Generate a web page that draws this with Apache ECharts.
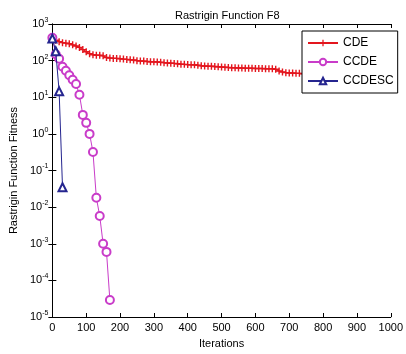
<!DOCTYPE html>
<html>
<head>
<meta charset="utf-8">
<script src="https://cdn.jsdelivr.net/npm/echarts@6/dist/echarts.min.js"></script>
<style>html,body{margin:0;padding:0;background:#fff}#c{width:406px;height:354px}</style>
</head>
<body>
<div id="c"></div>
<script>
var cdeIters = [0,10,20,30,40,50,60,70,80,90,100,110,120,130,140,150,160,170,180,190,200,210,220,230,240,250,260,270,280,290,300,310,320,330,340,350,360,370,380,390,400,410,420,430,440,450,460,470,480,490,500,510,520,530,540,550,560,570,580,590,600,610,620,630,640,650,660,670,680,690,700,710,720,730,740,750,760,770,780,790,800,810,820,830,840,850,860,870,880,890,900,910,920,930,940,950,960,970,980,990,1000];
var cdeValues = [400,360,330,310,300,290,270,250,230,200,175,155,145,140,140,135,122,118,115,115,113,110,108,105,104,100,98,97,95,93,93,92,90,88,86,85,84,82,80,79,78,77,77,75,72,71,70,70,69,68,67,66,65,64,64,63,63,62,62,62,61,61,61,60,60,60,58,52,49,47,46,46,45,45,44,44,43,43,42,42,41,40,40,39,38,38,37,37,36,36,35,35,34,34,33,33,33,32,32,31,30];
var ccdeIters = [0,10,20,30,40,50,60,70,80,90,100,110,120,130,140,150,160,170];
var ccdeValues = [420,150,112,68,53,40,30,23,11.7,3.3,2.0,1.0,0.32,0.018,0.0057,0.001,0.0006,0.000029];
var ccdescIters = [0,10,20,30];
var ccdescValues = [400,180,14.5,0.035];
var seriesNames = ['CDE','CCDE','CCDESC'];
var xTicks = {min:0, max:1000, interval:100};
var yRange = {min:1e-5, max:1e3};

function pairs(xs, ys){ return xs.map(function(x,i){ return [x, ys[i]]; }); }

var chart = echarts.init(document.getElementById('c'));
var FONT = 'Liberation Sans, Arial, sans-serif';
var plusPath = 'path://M4,0 H6 V4 H10 V6 H6 V10 H4 V6 H0 V4 H4 Z';
var axisCommon = {
  axisLine:{show:true, lineStyle:{color:'#000', width:1}},
  axisTick:{show:true, inside:true, length:4, lineStyle:{color:'#000'}},
  splitLine:{show:false}
};
function yLabel(v){
  var e = Math.round(Math.log10(v));
  return '{b|10}{e|' + e + '}';
}
var option = {
  animation:false,
  backgroundColor:'#fff',
  title:{text:'Rastrigin Function F8', left:170, top:5,
    textStyle:{fontSize:11, fontWeight:'normal', color:'#000', fontFamily:FONT}},
  legend:{
    orient:'vertical', left:302, top:31,
    backgroundColor:'#fff', borderColor:'#000', borderWidth:1, borderRadius:0,
    padding:[6,4,6,5], itemGap:7, itemWidth:30, itemHeight:8,
    textStyle:{fontSize:12, color:'#000', fontFamily:FONT},
    data:seriesNames
  },
  grid:{left:49, right:9, top:24, bottom:36, containLabel:false},
  xAxis:[
    Object.assign({type:'value', position:'bottom', min:xTicks.min, max:xTicks.max, interval:xTicks.interval,
      name:'Iterations', nameLocation:'middle', nameGap:21,
      nameTextStyle:{fontSize:11, color:'#000', fontFamily:FONT},
      axisLabel:{fontSize:11, color:'#000', fontFamily:FONT, margin:5, formatter:function(v){return String(v);}}}, axisCommon),
    Object.assign({type:'value', position:'top', min:xTicks.min, max:xTicks.max, interval:xTicks.interval,
      axisLabel:{show:false}}, axisCommon)
  ],
  yAxis:[
    Object.assign({type:'log', logBase:10, position:'left', min:yRange.min, max:yRange.max, splitNumber:8,
      name:'Rastrigin Function Fitness', nameLocation:'middle', nameGap:31,
      nameTextStyle:{fontSize:11, color:'#000', fontFamily:FONT},
      axisLabel:{fontSize:11, color:'#000', fontFamily:FONT, margin:4, formatter:yLabel,
        rich:{b:{fontSize:11, color:'#000', fontFamily:FONT},
              e:{fontSize:7, color:'#000', fontFamily:FONT, padding:[0,0,8,0]}}}}, axisCommon),
    Object.assign({type:'log', logBase:10, position:'right', min:yRange.min, max:yRange.max, splitNumber:8,
      axisLabel:{show:false}}, axisCommon)
  ],
  series:[
    {name:seriesNames[0], type:'line', data:pairs(cdeIters, cdeValues), color:'#e3161e',
      lineStyle:{width:1.2, color:'#e3161e'}, symbol:plusPath, symbolSize:7, showSymbol:true,
      itemStyle:{color:'#e3161e'}, z:2},
    {name:seriesNames[1], type:'line', data:pairs(ccdeIters, ccdeValues), color:'#c93cc9',
      lineStyle:{width:1, color:'#c93cc9'}, symbol:'emptyCircle', symbolSize:8,
      itemStyle:{color:'#c93cc9', borderWidth:1}, z:3},
    {name:seriesNames[2], type:'line', data:pairs(ccdescIters, ccdescValues), color:'#25258f',
      lineStyle:{width:1, color:'#25258f'}, symbol:'emptyTriangle', symbolSize:8,
      itemStyle:{color:'#25258f', borderWidth:1}, z:4}
  ]
};
chart.setOption(option);
</script>
</body>
</html>
